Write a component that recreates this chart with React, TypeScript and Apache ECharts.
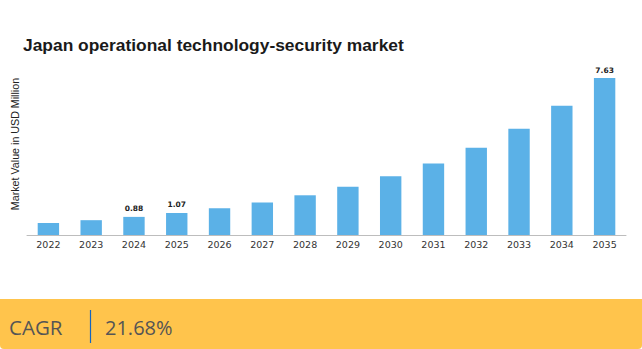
import React, { useEffect, useRef } from "react";
import * as echarts from "echarts";

const years = ["2022", "2023", "2024", "2025", "2026", "2027", "2028", "2029", "2030", "2031", "2032", "2033", "2034", "2035"];
const values = [0.58, 0.72, 0.88, 1.07, 1.3, 1.58, 1.93, 2.34, 2.86, 3.48, 4.24, 5.16, 6.28, 7.63];
const labelledYears = ["2024", "2025", "2035"];
const titleText = "Japan operational technology-security market";
const yAxisName = "Market Value in USD Million";
const cagrLabel = "CAGR";
const cagrValue = "21.68%";

export default function App() {
  const ref = useRef<HTMLDivElement>(null);
  useEffect(() => {
    if (!ref.current) return;
    const chart = echarts.init(ref.current, null, { renderer: "svg" });
    chart.setOption({
      animation: false,
      backgroundColor: "#ffffff",
      title: {
        text: titleText,
        left: 23,
        top: 36,
        padding: 0,
        textStyle: { fontFamily: "Liberation Sans, Arial, sans-serif", fontWeight: "bold", fontSize: 17.4, color: "#1a1a1a" },
      },
      grid: { left: 27, right: 16, top: 78, bottom: 114, containLabel: false },
      xAxis: {
        type: "category",
        data: years,
        axisLine: { lineStyle: { color: "#bdbdbd", width: 1 } },
        axisTick: { show: false },
        axisLabel: { color: "#333", fontFamily: "DejaVu Sans, sans-serif", fontSize: 9.5, margin: 4 },
      },
      yAxis: {
        type: "value",
        min: 0,
        max: 7.63,
        show: false,
      },
      graphic: [
        {
          type: "text",
          x: 15,
          y: 144,
          rotation: Math.PI / 2,
          style: {
            text: yAxisName,
            fill: "#222",
            font: "10.7px Liberation Sans, Arial, sans-serif",
            align: "center",
            verticalAlign: "middle",
          },
        },
        {
          type: "rect",
          shape: { x: 0, y: 299, width: 642, height: 50, r: [0, 0, 4, 4] },
          style: { fill: "#FFC44C" },
        },
        {
          type: "text",
          x: 9,
          y: 327,
          style: { text: cagrLabel, fill: "#555", font: "20.5px Open Sans, sans-serif", verticalAlign: "middle" },
        },
        {
          type: "line",
          shape: { x1: 90.5, y1: 310, x2: 90.5, y2: 343 },
          style: { stroke: "#1565C0", lineWidth: 1.2 },
        },
        {
          type: "text",
          x: 105,
          y: 327,
          style: { text: cagrValue, fill: "#555", font: "20px Open Sans, sans-serif", verticalAlign: "middle" },
        },
      ],
      series: [
        {
          type: "bar",
          data: values,
          barWidth: "50%",
          itemStyle: { color: "#5BB1E7" },
          label: {
            show: true,
            position: "top",
            distance: 4,
            fontFamily: "DejaVu Sans, sans-serif",
            fontWeight: "bold",
            fontSize: 7.5,
            color: "#222",
            formatter: (p: any) => (labelledYears.includes(p.name) ? p.value.toFixed(2) : ""),
          },
        },
      ],
    });
    return () => chart.dispose();
  }, []);
  return <div ref={ref} style={{ position: "fixed", left: 0, top: 0, width: 642, height: 349 }} />;
}
